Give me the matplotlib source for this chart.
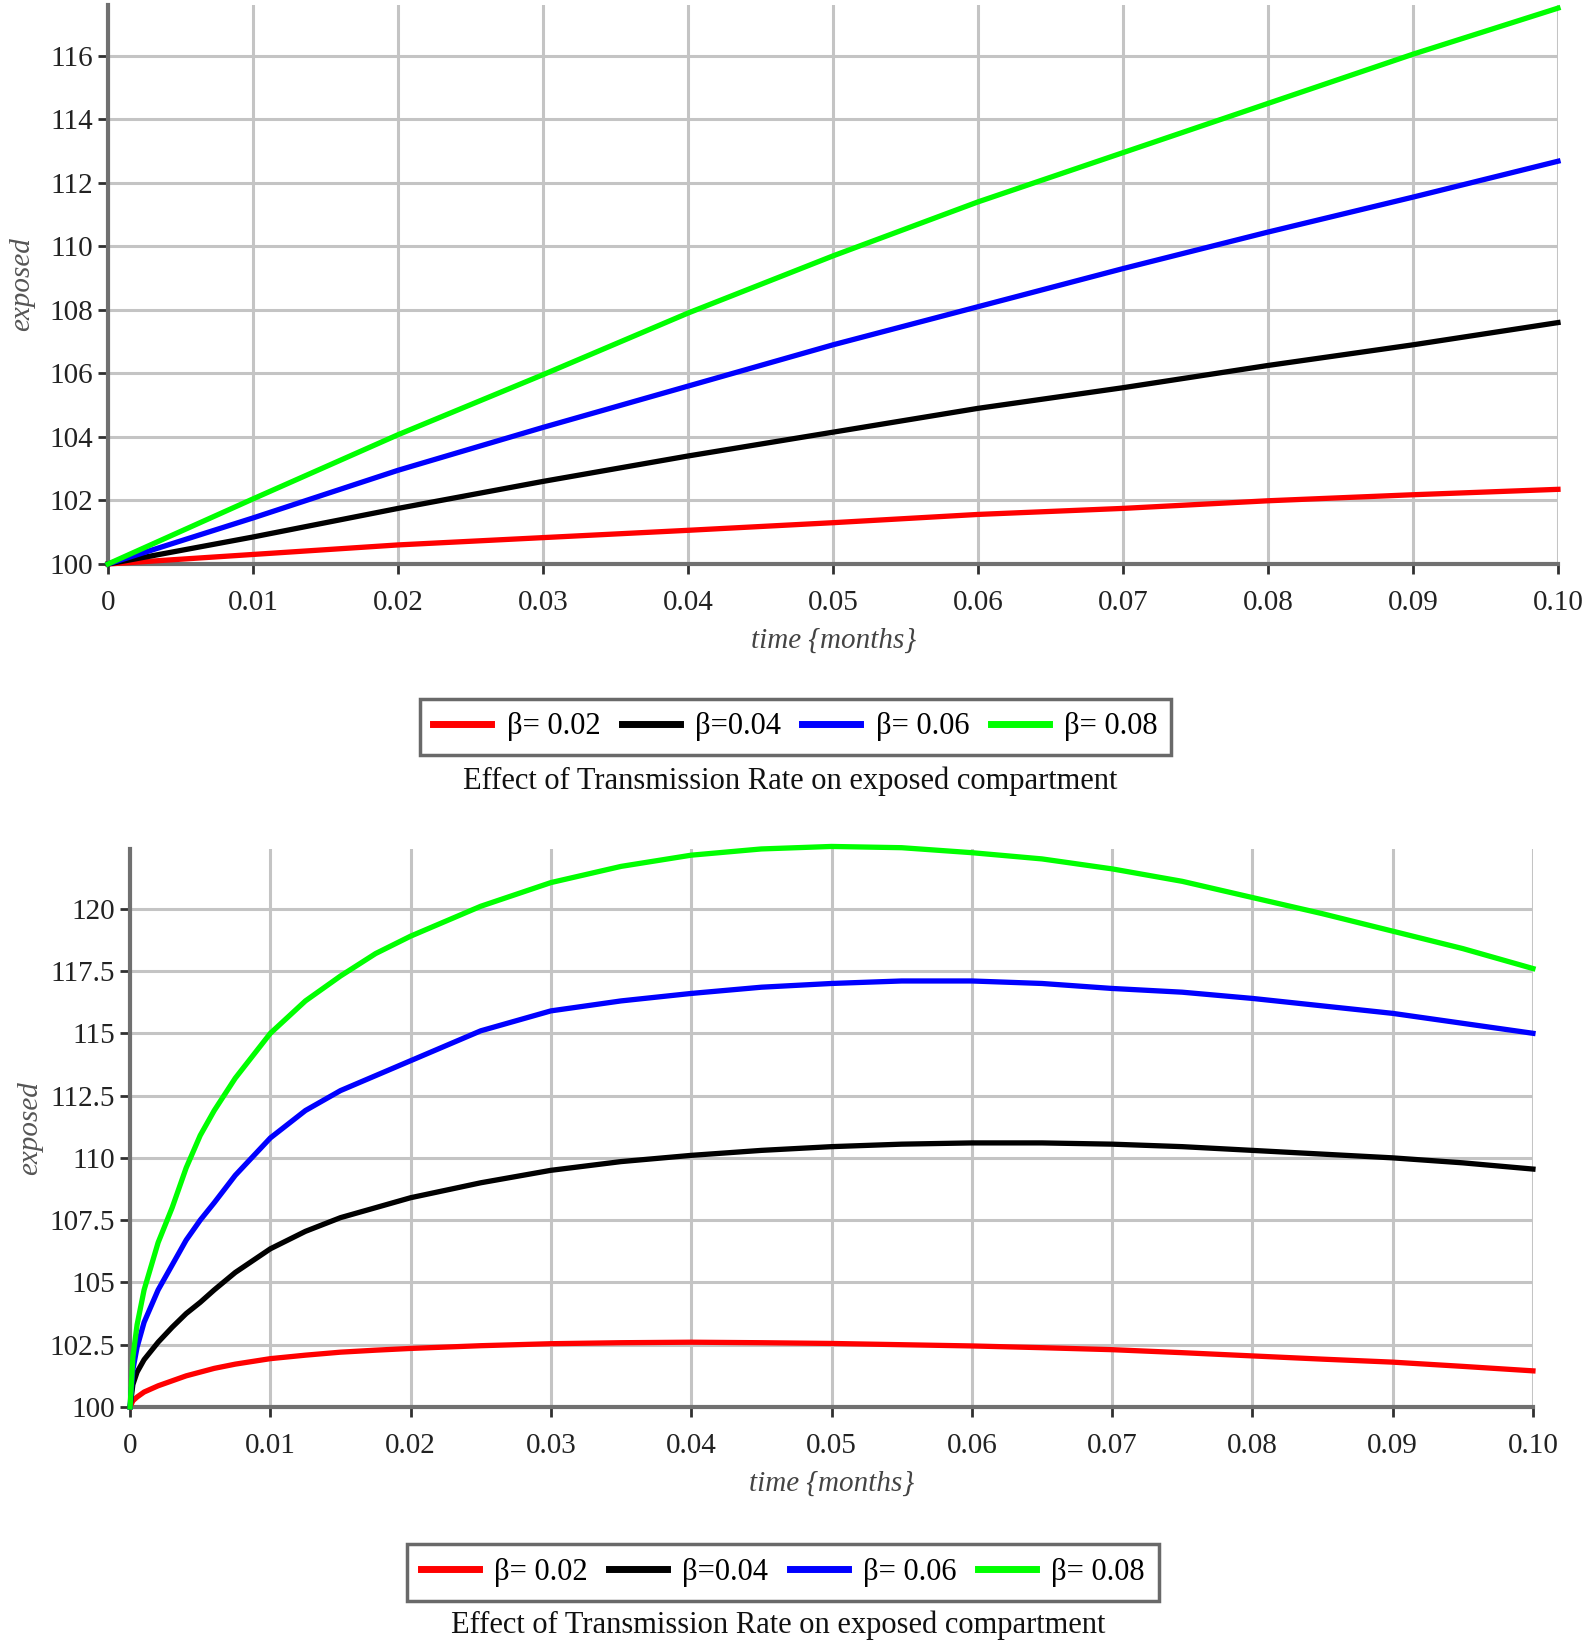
import numpy as np
import matplotlib
matplotlib.use("Agg")
import matplotlib.pyplot as plt

plt.rcParams["font.family"] = ["Liberation Serif", "DejaVu Serif"]

# ---- data: top panel (exposed vs time, nearly linear growth) ----
t_top = [0.0, 0.01, 0.02, 0.03, 0.04, 0.05, 0.06, 0.07, 0.08, 0.09, 0.10]
top_b002 = [100.0, 100.3, 100.6, 100.83, 101.06, 101.3, 101.56, 101.75, 101.99, 102.18, 102.35]
top_b004 = [100.0, 100.85, 101.75, 102.6, 103.4, 104.15, 104.9, 105.55, 106.25, 106.9, 107.6]
top_b006 = [100.0, 101.45, 102.95, 104.3, 105.6, 106.9, 108.1, 109.3, 110.45, 111.55, 112.68]
top_b008 = [100.0, 102.05, 104.07, 105.96, 107.9, 109.7, 111.4, 112.95, 114.5, 116.05, 117.5]

# ---- data: bottom panel (fast rise, then slow decline) ----
t_bot = [0.0, 0.0002, 0.0005, 0.001, 0.002, 0.003, 0.004, 0.005, 0.006, 0.0075,
         0.01, 0.0125, 0.015, 0.0175, 0.02, 0.025, 0.03, 0.035, 0.04, 0.045,
         0.05, 0.055, 0.06, 0.065, 0.07, 0.075, 0.08, 0.085, 0.09, 0.095, 0.10]
bot_b002 = [100.0, 100.25, 100.4, 100.6, 100.85, 101.05, 101.25, 101.4, 101.55, 101.72,
            101.94, 102.08, 102.2, 102.28, 102.35, 102.46, 102.54, 102.58, 102.6, 102.58,
            102.55, 102.5, 102.45, 102.38, 102.3, 102.18, 102.05, 101.92, 101.8, 101.63, 101.45]
bot_b004 = [100.0, 100.9, 101.4, 101.9, 102.6, 103.2, 103.75, 104.2, 104.7, 105.4,
            106.35, 107.05, 107.6, 108.0, 108.4, 109.0, 109.5, 109.85, 110.1, 110.3,
            110.45, 110.55, 110.6, 110.6, 110.55, 110.45, 110.3, 110.15, 110.0, 109.8, 109.55]
bot_b006 = [100.0, 101.5, 102.4, 103.4, 104.7, 105.7, 106.7, 107.5, 108.2, 109.3,
            110.8, 111.9, 112.7, 113.3, 113.9, 115.1, 115.9, 116.3, 116.6, 116.85,
            117.0, 117.1, 117.1, 117.0, 116.8, 116.65, 116.4, 116.1, 115.8, 115.4, 115.0]
bot_b008 = [100.0, 102.0, 103.3, 104.7, 106.6, 108.0, 109.6, 110.9, 111.9, 113.2,
            115.0, 116.3, 117.3, 118.2, 118.9, 120.1, 121.05, 121.7, 122.15, 122.4,
            122.5, 122.45, 122.25, 122.0, 121.6, 121.1, 120.45, 119.8, 119.1, 118.4, 117.6]

series_labels = ["β= 0.02", "β=0.04", "β= 0.06", "β= 0.08"]
series_colors = ["#ff0000", "#000000", "#0000ff", "#00ff00"]

x_ticks = [0.0, 0.01, 0.02, 0.03, 0.04, 0.05, 0.06, 0.07, 0.08, 0.09, 0.10]
x_ticklabels = ["0", "0.01", "0.02", "0.03", "0.04", "0.05", "0.06", "0.07", "0.08", "0.09", "0.10"]
y_ticks_top = [100, 102, 104, 106, 108, 110, 112, 114, 116]
y_ticks_bot = [100, 102.5, 105, 107.5, 110, 112.5, 115, 117.5, 120]
y_ticklabels_bot = ["100", "102.5", "105", "107.5", "110", "112.5", "115", "117.5", "120"]

caption = "Effect of Transmission Rate on exposed compartment"

fig = plt.figure(figsize=(15.94, 16.51), dpi=100)
ax_top = fig.add_axes([0.0678, 0.6584, 0.9096, 0.3386])
ax_bot = fig.add_axes([0.0816, 0.1478, 0.8801, 0.3380])

spine_col = "#707070"
grid_col = "#c4c4c4"


def style_axes(ax, yticks, yticklabels, ylim):
    ax.set_xlim(0, 0.1)
    ax.set_ylim(*ylim)
    ax.set_xticks(x_ticks)
    ax.set_xticklabels(x_ticklabels)
    ax.set_yticks(yticks)
    ax.set_yticklabels(yticklabels)
    ax.grid(True, color=grid_col, linewidth=2.2, zorder=0)
    ax.set_axisbelow(True)
    for s in ["top", "right"]:
        ax.spines[s].set_visible(False)
    for s in ["left", "bottom"]:
        ax.spines[s].set_color(spine_col)
        ax.spines[s].set_linewidth(3)
    ax.tick_params(axis="both", direction="out", length=7, width=2,
                   color="#303030", labelsize=21, labelcolor="#222222")
    ax.tick_params(axis="x", pad=12)
    ax.tick_params(axis="y", pad=4)
    ax.set_xlabel("time {months}", fontsize=21, style="italic", color="#444444", labelpad=8)
    ax.set_ylabel("exposed", fontsize=21, style="italic", color="#555555", labelpad=10)


top_series = [top_b002, top_b004, top_b006, top_b008]
bot_series = [bot_b002, bot_b004, bot_b006, bot_b008]

for vals, col, lab in zip(top_series, series_colors, series_labels):
    ax_top.plot(t_top, vals, color=col, linewidth=3.8, label=lab, clip_on=False, zorder=3)
for vals, col, lab in zip(bot_series, series_colors, series_labels):
    ax_bot.plot(t_bot, vals, color=col, linewidth=3.8, label=lab, clip_on=False, zorder=3,
                solid_joinstyle="round")

style_axes(ax_top, y_ticks_top, [str(v) for v in y_ticks_top], (100, 117.6))
style_axes(ax_bot, y_ticks_bot, y_ticklabels_bot, (100, 122.4))
ax_top.yaxis.set_label_coords(-0.050, 0.5)
ax_bot.yaxis.set_label_coords(-0.062, 0.5)


def add_legend(ax, cx, cy):
    handles, labels = ax.get_legend_handles_labels()
    leg = fig.legend(handles, labels, loc="center", bbox_to_anchor=(cx, cy),
                     ncol=4, fontsize=22, frameon=True, fancybox=False,
                     edgecolor="#444444", handlelength=1.9, handletextpad=0.5,
                     columnspacing=0.7, borderpad=0.45)
    leg.get_frame().set_linewidth(2.5)
    for line in leg.get_lines():
        line.set_linewidth(5)
    return leg


add_legend(ax_top, 0.499, 0.5597)
add_legend(ax_bot, 0.491, 0.0475)

fig.text(0.496, 0.527, caption, ha="center", va="center", fontsize=22, color="#111111")
fig.text(0.488, 0.0157, caption, ha="center", va="center", fontsize=22, color="#111111")

fig.savefig("out.png", dpi=100, facecolor="white")
